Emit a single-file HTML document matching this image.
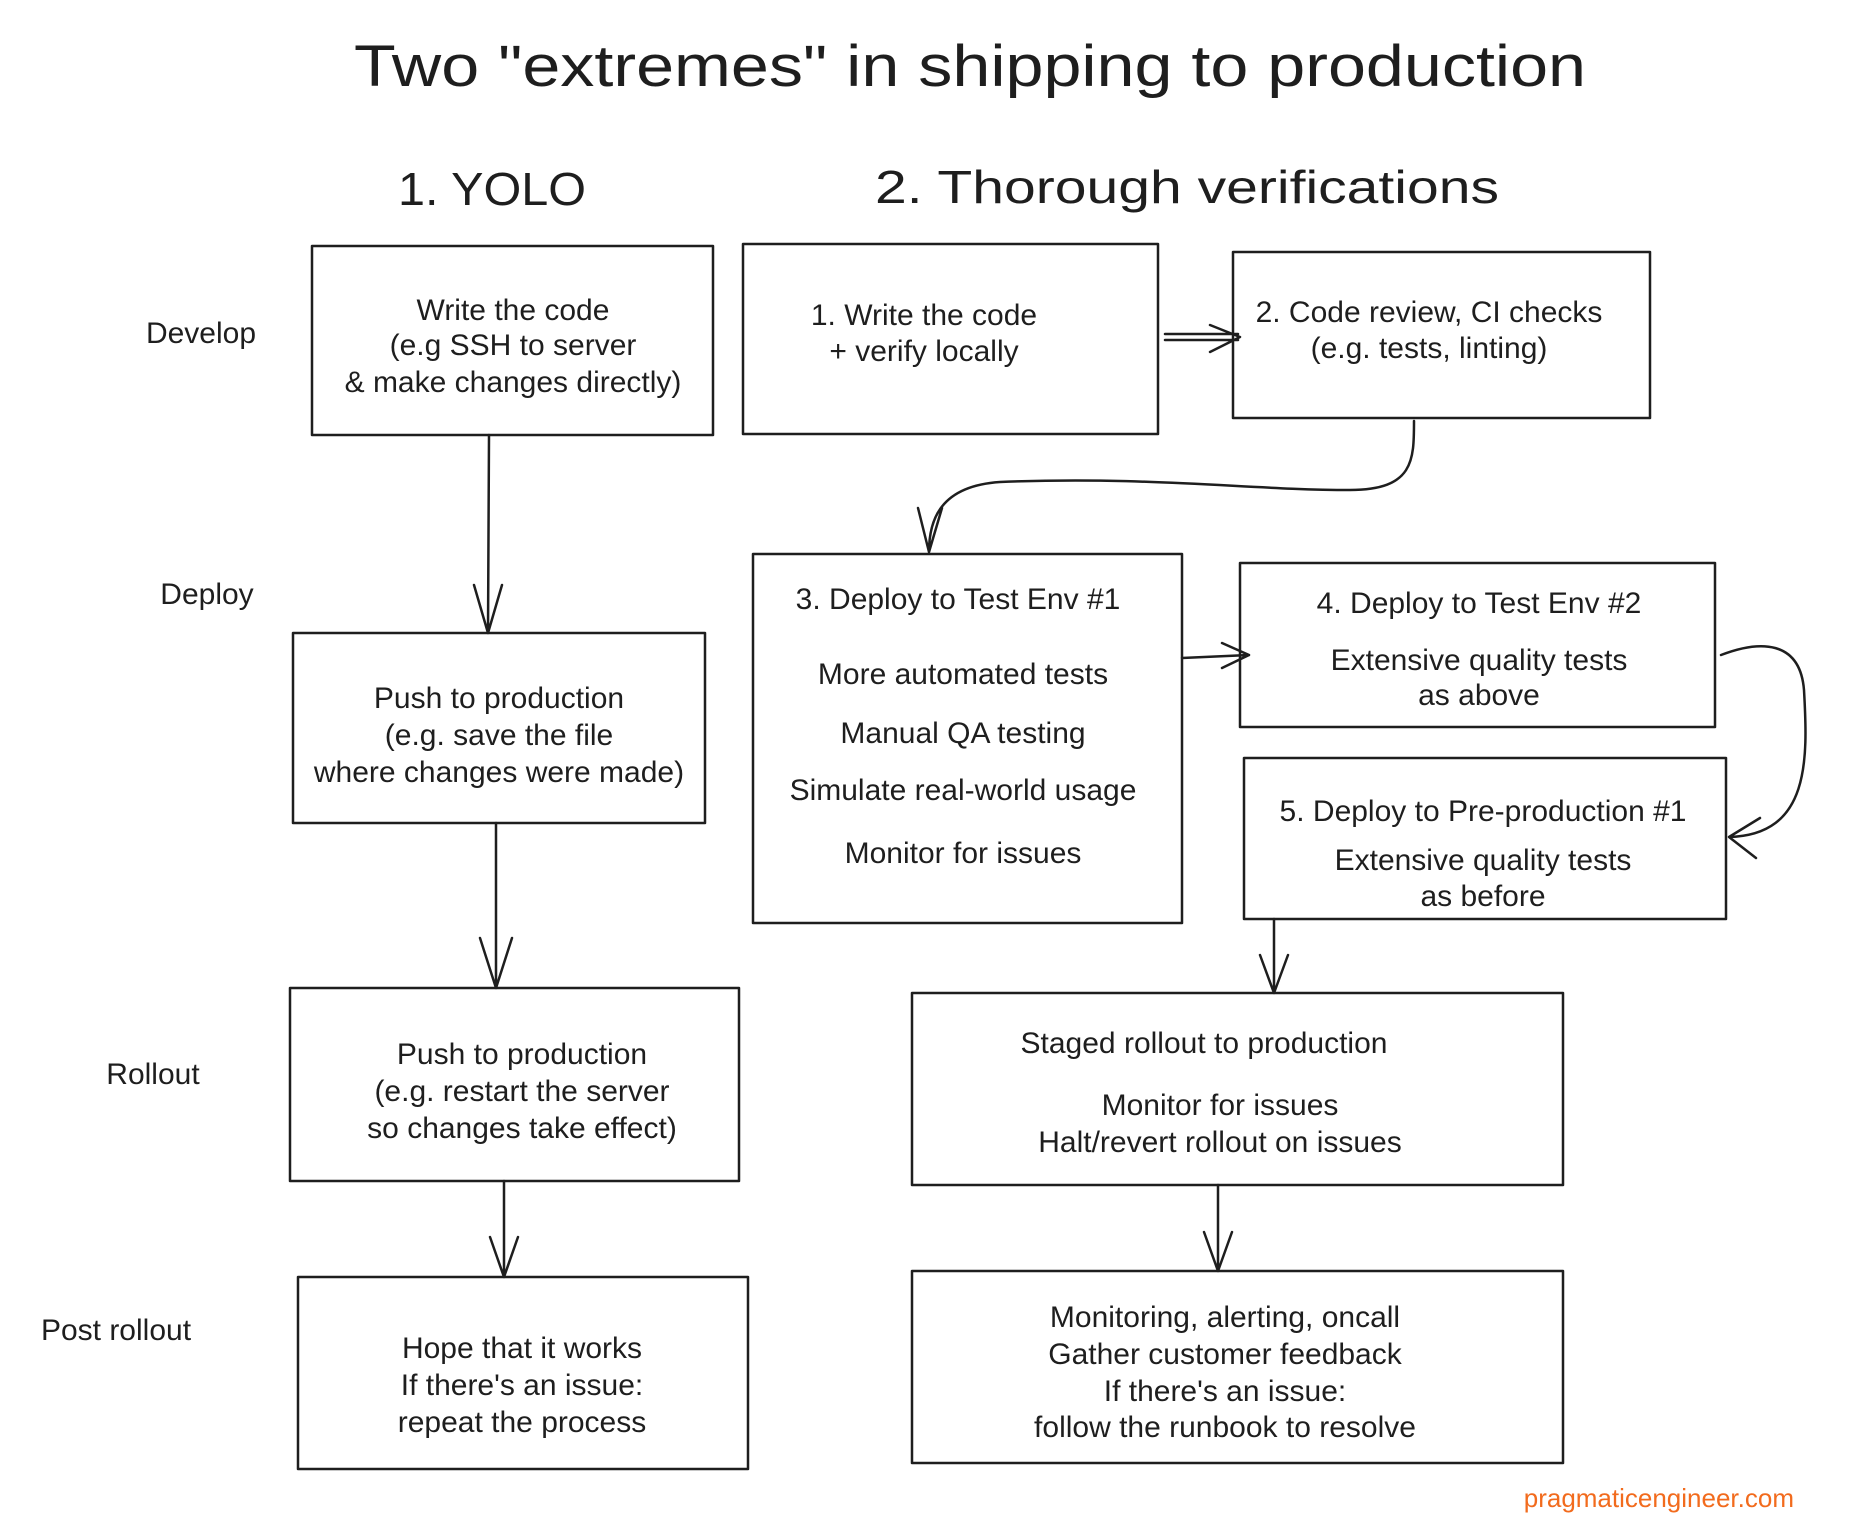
<!DOCTYPE html>
<html><head><meta charset="utf-8"><style>
html,body{margin:0;padding:0;background:#fff;}
svg{display:block;}
text{font-family:"Liberation Sans",sans-serif;fill:#1e1e1e;}
.t{font-size:30px;text-anchor:middle;}
.s{font-size:30px;text-anchor:middle;}
</style></head><body>
<svg width="1852" height="1520" viewBox="0 0 1852 1520" xmlns="http://www.w3.org/2000/svg">
<rect width="1852" height="1520" fill="#fff"/>
<g fill="none" stroke="#1e1e1e" stroke-width="2.5" stroke-linecap="round" stroke-linejoin="round">
<rect x="312" y="246" width="401" height="189"/>
<rect x="293" y="633" width="412" height="190"/>
<rect x="290" y="988" width="449" height="193"/>
<rect x="298" y="1277" width="450" height="192"/>
<rect x="743" y="244" width="415" height="190"/>
<rect x="1233" y="252" width="417" height="166"/>
<rect x="753" y="554" width="429" height="369"/>
<rect x="1240" y="563" width="475" height="164"/>
<rect x="1244" y="758" width="482" height="161"/>
<rect x="912" y="993" width="651" height="192"/>
<rect x="912" y="1271" width="651" height="192"/>
<path d="M489 435 L488 633 M474 585 L488 633 L502 585"/>
<path d="M496 823 L496 988 M480 938 L496 988 L512 938"/>
<path d="M504 1181 L504 1277 M490 1237 L504 1277 L518 1237"/>
<path d="M1165 334 L1238 334 M1165 340 L1238 340 M1210 325 L1240 337 L1210 352"/>
<path d="M1414 421 C1414 460 1414 490 1350 490 C1250 490 1150 476 1000 482 C940 486 929 520 929 552 M918 508 L929 552 L942 508"/>
<path d="M1182 658 L1249 655 M1222 643 L1249 655 L1222 668"/>
<path d="M1721 655 C1760 640 1800 640 1804 690 C1808 760 1810 835 1729 837 M1760 818 L1729 837 L1756 858"/>
<path d="M1274 919 L1274 993 M1260 955 L1274 993 L1288 955"/>
<path d="M1218 1185 L1218 1271 M1204 1232 L1218 1271 L1232 1232"/>
</g>
<text x="970" y="86" style="font-size:58px;text-anchor:middle" textLength="1232" lengthAdjust="spacingAndGlyphs">Two "extremes" in shipping to production</text>
<text x="492" y="205" style="font-size:46px;text-anchor:middle" textLength="188" lengthAdjust="spacingAndGlyphs">1. YOLO</text>
<text x="1187" y="203" style="font-size:46px;text-anchor:middle" textLength="624" lengthAdjust="spacingAndGlyphs">2. Thorough verifications</text>
<text x="201" y="343" class="s">Develop</text>
<text x="207" y="604" class="s">Deploy</text>
<text x="153" y="1084" class="s">Rollout</text>
<text x="116" y="1340" class="s">Post rollout</text>
<text class="t" x="513" y="320">Write the code</text>
<text class="t" x="513" y="355">(e.g SSH to server</text>
<text class="t" x="513" y="392">&amp; make changes directly)</text>
<text class="t" x="499" y="708">Push to production</text>
<text class="t" x="499" y="745">(e.g. save the file</text>
<text class="t" x="499" y="782">where changes were made)</text>
<text class="t" x="522" y="1064">Push to production</text>
<text class="t" x="522" y="1101">(e.g. restart the server</text>
<text class="t" x="522" y="1138">so changes take effect)</text>
<text class="t" x="522" y="1358">Hope that it works</text>
<text class="t" x="522" y="1395">If there's an issue:</text>
<text class="t" x="522" y="1432">repeat the process</text>
<text class="t" x="924" y="325">1. Write  the code</text>
<text class="t" x="924" y="361">+ verify locally</text>
<text class="t" x="1429" y="322">2. Code review, CI checks</text>
<text class="t" x="1429" y="358">(e.g. tests, linting)</text>
<text class="t" x="958" y="609">3. Deploy to Test Env #1</text>
<text class="t" x="963" y="684">More automated tests</text>
<text class="t" x="963" y="743">Manual QA testing</text>
<text class="t" x="963" y="800">Simulate real-world usage</text>
<text class="t" x="963" y="863">Monitor for issues</text>
<text class="t" x="1479" y="613">4. Deploy to Test Env #2</text>
<text class="t" x="1479" y="670">Extensive quality tests</text>
<text class="t" x="1479" y="705">as above</text>
<text class="t" x="1483" y="821">5. Deploy to Pre-production #1</text>
<text class="t" x="1483" y="870">Extensive quality tests</text>
<text class="t" x="1483" y="906">as before</text>
<text class="t" x="1204" y="1053">Staged rollout to production</text>
<text class="t" x="1220" y="1115">Monitor for issues</text>
<text class="t" x="1220" y="1152">Halt/revert rollout on issues</text>
<text class="t" x="1225" y="1327">Monitoring, alerting, oncall</text>
<text class="t" x="1225" y="1364">Gather customer feedback</text>
<text class="t" x="1225" y="1401">If there's an issue:</text>
<text class="t" x="1225" y="1437">follow the runbook to resolve</text>
<text x="1794" y="1507" style="font-size:26px;text-anchor:end;fill:#f26b1d">pragmaticengineer.com</text>
</svg>
</body></html>
